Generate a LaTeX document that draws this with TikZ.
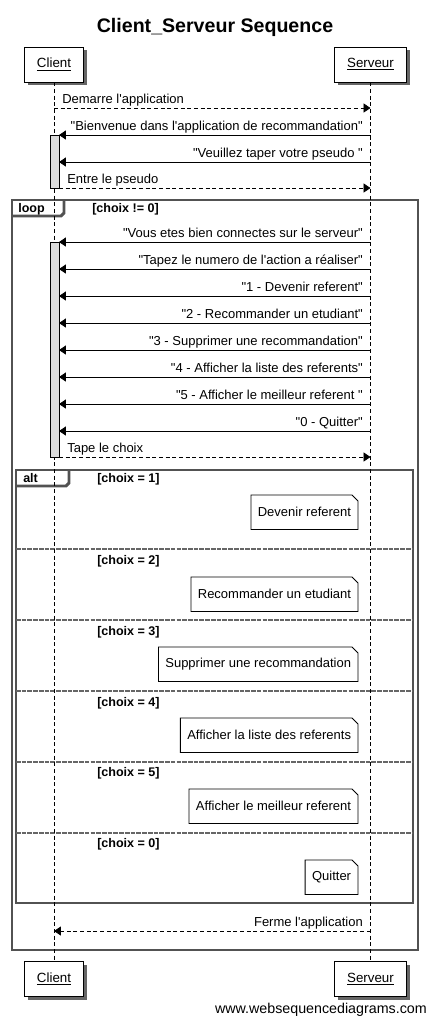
\documentclass[tikz,border=0pt]{standalone}
\usepackage{fontspec}
\setmainfont{Liberation Sans}[Ligatures=TeXOff]
\usetikzlibrary{arrows.meta}
\usetikzlibrary{shadows}
\usetikzlibrary{calc}

\tikzset{
  actor/.style={draw, fill=white, line width=0.6pt, inner xsep=9.5pt, minimum height=26.25pt,
    drop shadow={shadow xshift=2.5pt, shadow yshift=-2.5pt, fill=black!60, opacity=1}},
  life/.style={line width=0.6pt, dash pattern=on 3pt off 2pt},
  msg/.style={line width=0.6pt, -{Triangle[length=5.2pt,width=6.8pt]}},
  reply/.style={msg, dash pattern=on 3pt off 2pt},
  lbl/.style={font=\fontsize{9.75}{11}\selectfont, inner sep=1pt},
  guard/.style={font=\bfseries\fontsize{9.4}{11}\selectfont, inner sep=0pt, anchor=base west},
  frame/.style={draw=black!68, line width=2.2pt},
  split/.style={draw=black!60, line width=2pt, dash pattern=on 3.5pt off 0.8pt},
  note/.style={font=\fontsize{9.75}{11}\selectfont, inner xsep=5pt, minimum height=25.5pt, anchor=north east},
  bar/.style={draw, fill=black!14, line width=0.6pt},
}

\begin{document}
\begin{tikzpicture}[x=0.75pt,y=-0.75pt]
\useasboundingbox (0,0) rectangle (428,1018);

\node[font=\bfseries\fontsize{14.7}{17}\selectfont, anchor=base] (title) at (215,32) {Client\_Serveur Sequence};

\draw[frame] (12,200) rectangle (418,950);
\draw[frame] (12,216) -- (61,216) -- (64,213) -- (64,200);
\node[guard] (lp) at (18,212) {loop};
\node[guard] (cond) at (92,212) {[choix != 0]};

\draw[frame] (16,470) rectangle (413,903);
\draw[frame] (16,486) -- (66,486) -- (69,483) -- (69,470);
\node[guard] (al) at (23,482) {alt};
\foreach \y in {549,620,691,762,833}
  \draw[split] (16,\y) -- (413,\y);

\foreach \k/\y/\c in {1/482/1, 2/564/2, 3/635/3, 4/706/4, 5/776/5, 6/847/0}
  \node[guard] (g\k) at (97,\y) {[choix = \c]};

\foreach \k/\y/\t in {1/495/Devenir referent, 2/577/Recommander un etudiant,
    3/647/Supprimer une recommandation, 4/718/Afficher la liste des referents,
    5/789/Afficher le meilleur referent, 6/860/Quitter} {
  \node[note] (n\k) at (358,\y) {\t};
  \draw[line width=0.6pt] (n\k.north west) -- ([xshift=-4.5pt]n\k.north east)
    -- ([yshift=-4.5pt]n\k.north east) -- (n\k.south east) -- (n\k.south west) -- cycle;
}

\node[actor] (c) at (54,64.5) {\underline{Client}};
\node[actor] (s) at (370.5,64.5) {\underline{Serveur}};
\node[actor] (c2) at (54,979) {\underline{Client}};
\node[actor] (s2) at (370.5,979) {\underline{Serveur}};
\draw[life] (c) -- (c2);
\draw[life] (s) -- (s2);

\draw[bar] (50,135) rectangle (59,188);
\draw[bar] (50,242) rectangle (59,457);

\coordinate (d1) at (54,108);
\coordinate (e1) at (370.5,108);
\draw[reply] (d1) -- (e1);
\node[lbl, anchor=base west] (u1) at ([xshift=5pt, yshift=3.3pt]d1) {Demarre l'application};

\foreach \k/\y/\t in {1/135/{"Bienvenue dans l'application de recommandation"},
    2/162/{"Veuillez taper votre pseudo "},
    3/242/{"Vous etes bien connectes sur le serveur"},
    4/269/{"Tapez le numero de l'action a réaliser"},
    5/296/{"1 - Devenir referent"},
    6/323/{"2 - Recommander un etudiant"},
    7/350/{"3 - Supprimer une recommandation"},
    8/377/{"4 - Afficher la liste des referents"},
    9/404/{"5 - Afficher le meilleur referent "},
    10/431/{"0 - Quitter"}} {
  \coordinate (a\k) at (370.5,\y);
  \coordinate (b\k) at (59,\y);
  \draw[msg] (a\k) -- (b\k);
  \node[lbl, anchor=base east] (t\k) at ([xshift=-4.6pt, yshift=3.3pt]a\k) {\t};
}

\coordinate (d2) at (59,188);
\coordinate (e2) at (370.5,188);
\draw[reply] (d2) -- (e2);
\node[lbl, anchor=base west] (u2) at ([xshift=5pt, yshift=3.3pt]d2) {Entre le pseudo};

\coordinate (d3) at (59,457);
\coordinate (e3) at (370.5,457);
\draw[reply] (d3) -- (e3);
\node[lbl, anchor=base west] (u3) at ([xshift=5pt, yshift=3.3pt]d3) {Tape le choix};

\coordinate (e4) at (370.5,931);
\coordinate (d4) at (54,931);
\draw[reply] (e4) -- (d4);
\node[lbl, anchor=base east] (u4) at ([xshift=-4.6pt, yshift=3.3pt]e4) {Ferme l'application};

\node[font=\fontsize{10.7}{12}\selectfont, anchor=base east, inner sep=0pt] (wm) at (427,1013) {www.websequencediagrams.com};
\end{tikzpicture}
\end{document}
